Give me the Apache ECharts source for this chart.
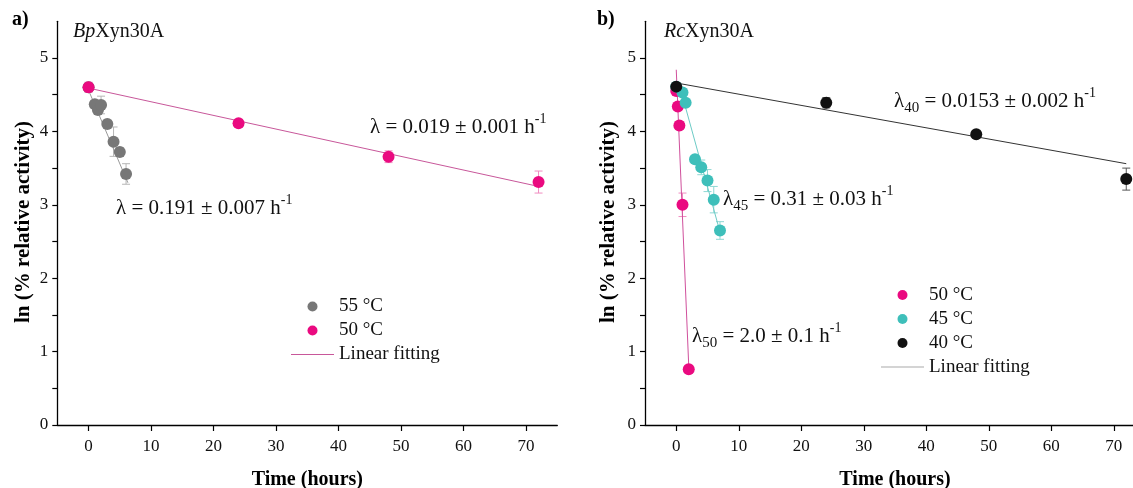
<!DOCTYPE html>
<html>
<head>
<meta charset="utf-8">
<script src="https://cdn.jsdelivr.net/npm/echarts@6/dist/echarts.min.js"></script>
<style>
html,body{margin:0;padding:0;background:#fff;}
#c{width:1133px;height:488px;}
</style>
</head>
<body>
<div id="c"></div>
<script>
// ---------- data ----------
const xTickLabels = [0, 10, 20, 30, 40, 50, 60, 70];
const yTickLabels = [0, 1, 2, 3, 4, 5];
const yTickMarks = [0, 0.5, 1, 1.5, 2, 2.5, 3, 3.5, 4, 4.5, 5];

// Panel a) BpXyn30A
const timeBp55 = [0, 1, 1.5, 2, 3, 4, 5, 6];
const lnBp55   = [4.60, 4.37, 4.29, 4.36, 4.10, 3.86, 3.72, 3.42];
const errBp55  = [0.05, 0.05, 0.06, 0.12, 0.05, 0.20, 0.06, 0.14];
const timeBp50 = [0, 24, 48, 72];
const lnBp50   = [4.60, 4.11, 3.655, 3.31];
const errBp50  = [0.07, 0.05, 0.08, 0.15];
const fitBp55  = [[0, 4.56], [6.3, 3.30]];
const fitBp50  = [[0, 4.59], [72, 3.25]];

// Panel b) RcXyn30A
const timeRc50 = [0, 0.25, 0.5, 1, 2];
const lnRc50   = [4.55, 4.34, 4.08, 3.00, 0.76];
const errRc50  = [0.03, 0.04, 0.05, 0.16, 0.03];
const timeRc45 = [0, 1, 1.5, 3, 4, 5, 6, 7];
const lnRc45   = [4.61, 4.53, 4.39, 3.62, 3.51, 3.33, 3.07, 2.65];
const errRc45  = [0.03, 0.03, 0.03, 0.05, 0.10, 0.15, 0.18, 0.12];
const timeRc40 = [0, 24, 48, 72];
const lnRc40   = [4.61, 4.39, 3.96, 3.35];
const errRc40  = [0.04, 0.07, 0.03, 0.15];
const fitRc50  = [[0, 4.84], [2, 0.80]];
const fitRc45  = [[0.6, 4.60], [7, 2.63]];
const fitRc40  = [[0, 4.66], [72, 3.56]];

// ---------- styling ----------
const FONT = '"Liberation Serif","Times New Roman",serif';
const PINK = '#ea0a80', GREY = '#777777', TEAL = '#3ebfba', BLACK = '#111111';
const LINE_ICON = 'path://M0,0 L43,0 L43,1 L0,1 Z';

function pts(t, v) { return t.map((x, i) => [x, v[i]]); }
function errs(t, v, e) { return t.map((x, i) => [x, v[i], e[i]]); }

function errSeries(idx, t, v, e, color) {
  return {
    type: 'custom', xAxisIndex: idx, yAxisIndex: idx, z: 1, silent: true,
    data: errs(t, v, e),
    renderItem: function (params, api) {
      const x = api.value(0), y = api.value(1), d = api.value(2);
      const top = api.coord([x, y + d]), bot = api.coord([x, y - d]);
      const hw = 4;
      const st = { stroke: color, lineWidth: 1 };
      return { type: 'group', children: [
        { type: 'line', shape: { x1: top[0], y1: top[1], x2: bot[0], y2: bot[1] }, style: st },
        { type: 'line', shape: { x1: top[0] - hw, y1: top[1], x2: top[0] + hw, y2: top[1] }, style: st },
        { type: 'line', shape: { x1: bot[0] - hw, y1: bot[1], x2: bot[0] + hw, y2: bot[1] }, style: st }
      ]};
    }
  };
}
function scat(idx, name, t, v, color, z) {
  return { type: 'scatter', name: name, xAxisIndex: idx, yAxisIndex: idx, z: z,
    symbolSize: 12, itemStyle: { color: color, opacity: 1 }, data: pts(t, v) };
}
function fit(idx, data, color) {
  return { type: 'line', name: 'Linear fitting', xAxisIndex: idx, yAxisIndex: idx, z: 2,
    symbol: 'none', showSymbol: false, lineStyle: { color: color, width: 1 }, data: data };
}

function xAx(idx) {
  return {
    type: 'value', gridIndex: idx, min: -5, max: 75,
    name: 'Time (hours)', nameLocation: 'middle', nameGap: 45,
    nameTextStyle: { fontFamily: FONT, fontWeight: 'bold', fontSize: 20, color: '#000' },
    axisLine: { onZero: false, lineStyle: { color: '#000', width: 1.3 } },
    axisTick: { show: true, length: 6, lineStyle: { color: '#000', width: 1.2 }, customValues: xTickLabels },
    axisLabel: { fontFamily: FONT, fontSize: 17, color: '#111', margin: 13, customValues: xTickLabels },
    splitLine: { show: false }
  };
}
function yAx(idx) {
  return {
    type: 'value', gridIndex: idx, min: 0, max: 5.5,
    axisLine: { show: true, onZero: false, lineStyle: { color: '#000', width: 1.3 } },
    axisTick: { show: true, length: 5, lineStyle: { color: '#000', width: 1.2 }, customValues: yTickMarks },
    axisLabel: { fontFamily: FONT, fontSize: 17, color: '#111', margin: 9, customValues: yTickLabels },
    splitLine: { show: false }
  };
}

const richLam = {
  sup: { fontFamily: FONT, fontSize: 14, lineHeight: 14, verticalAlign: 'top', fill: '#111' },
  sub: { fontFamily: FONT, fontSize: 15, lineHeight: 15, verticalAlign: 'bottom', fill: '#111' }
};
function lamText(x, y, txt) {
  return { type: 'text', x: x, y: y,
    style: { text: txt, fontFamily: FONT, fontSize: 21, lineHeight: 29, fill: '#111',
      verticalAlign: 'middle', align: 'left', rich: richLam } };
}

const option = {
  animation: false,
  backgroundColor: '#ffffff',
  textStyle: { fontFamily: FONT },
  grid: [
    { left: 57.3, top: 21.3, width: 500, height: 403.7, outerBoundsMode: 'none', containLabel: false },
    { left: 645, top: 21.3, width: 500, height: 403.7, outerBoundsMode: 'none', containLabel: false }
  ],
  xAxis: [xAx(0), xAx(1)],
  yAxis: [yAx(0), yAx(1)],
  legend: [
    { orient: 'vertical', left: 291, top: 297, padding: 0, itemGap: 5, itemWidth: 43, itemHeight: 10,
      textStyle: { fontFamily: FONT, fontSize: 19, color: '#111' },
      data: [
        { name: '55 °C', icon: 'circle', itemStyle: { color: GREY } },
        { name: '50 °C', icon: 'circle', itemStyle: { color: PINK } },
        { name: 'Linear fitting', icon: LINE_ICON, itemStyle: { color: '#c8579a' } }
      ] },
    { orient: 'vertical', left: 881, top: 285.5, padding: 0, itemGap: 5, itemWidth: 43, itemHeight: 10,
      textStyle: { fontFamily: FONT, fontSize: 19, color: '#111' },
      data: [
        { name: '50 °C', icon: 'circle', itemStyle: { color: PINK } },
        { name: '45 °C', icon: 'circle', itemStyle: { color: TEAL } },
        { name: '40 °C', icon: 'circle', itemStyle: { color: BLACK } },
        { name: 'Linear fitting', icon: LINE_ICON, itemStyle: { color: '#aaaaaa' } }
      ] }
  ],
  graphic: [
    { type: 'text', x: 12, y: 20, style: { text: 'a)', fontFamily: FONT, fontWeight: 'bold', fontSize: 20, fill: '#000', verticalAlign: 'middle' } },
    { type: 'text', x: 597, y: 20, style: { text: 'b)', fontFamily: FONT, fontWeight: 'bold', fontSize: 20, fill: '#000', verticalAlign: 'middle' } },
    { type: 'text', x: 73, y: 32, style: { text: '{i|Bp}Xyn30A', fontFamily: FONT, fontSize: 20, fill: '#111', verticalAlign: 'middle',
        rich: { i: { fontFamily: FONT, fontSize: 20, fontStyle: 'italic', fill: '#111' } } } },
    { type: 'text', x: 664, y: 32, style: { text: '{i|Rc}Xyn30A', fontFamily: FONT, fontSize: 20, fill: '#111', verticalAlign: 'middle',
        rich: { i: { fontFamily: FONT, fontSize: 20, fontStyle: 'italic', fill: '#111' } } } },
    { type: 'text', x: 24, y: 222, rotation: Math.PI / 2,
      style: { text: 'ln (% relative activity)', fontFamily: FONT, fontWeight: 'bold', fontSize: 21, fill: '#000', align: 'center', verticalAlign: 'middle' } },
    { type: 'text', x: 609, y: 222, rotation: Math.PI / 2,
      style: { text: 'ln (% relative activity)', fontFamily: FONT, fontWeight: 'bold', fontSize: 21, fill: '#000', align: 'center', verticalAlign: 'middle' } },
    lamText(370, 127, 'λ = 0.019 ± 0.001 h{sup|-1}'),
    lamText(116, 208, 'λ = 0.191 ± 0.007 h{sup|-1}'),
    lamText(894, 101, 'λ{sub|40} = 0.0153 ± 0.002 h{sup|-1}'),
    lamText(723, 199, 'λ{sub|45} = 0.31 ± 0.03 h{sup|-1}'),
    lamText(692, 336, 'λ{sub|50} = 2.0 ± 0.1 h{sup|-1}')
  ],
  series: [
    // panel a
    errSeries(0, timeBp55, lnBp55, errBp55, '#b5b5b5'),
    errSeries(0, timeBp50, lnBp50, errBp50, '#f08cc0'),
    fit(0, fitBp55, '#9a9a9a'),
    fit(0, fitBp50, '#c8579a'),
    scat(0, '55 °C', timeBp55, lnBp55, GREY, 3),
    scat(0, '50 °C', timeBp50, lnBp50, PINK, 4),
    // panel b
    errSeries(1, timeRc50, lnRc50, errRc50, '#f08cc0'),
    errSeries(1, timeRc45, lnRc45, errRc45, '#8fd8d4'),
    errSeries(1, timeRc40, lnRc40, errRc40, '#555555'),
    fit(1, fitRc50, '#d0509c'),
    fit(1, fitRc45, '#6ccbc6'),
    fit(1, fitRc40, '#333333'),
    scat(1, '50 °C', timeRc50, lnRc50, PINK, 3),
    scat(1, '45 °C', timeRc45, lnRc45, TEAL, 4),
    scat(1, '40 °C', timeRc40, lnRc40, BLACK, 5)
  ]
};

const chart = echarts.init(document.getElementById('c'), null, { renderer: 'canvas' });
chart.setOption(option);
</script>
</body>
</html>
